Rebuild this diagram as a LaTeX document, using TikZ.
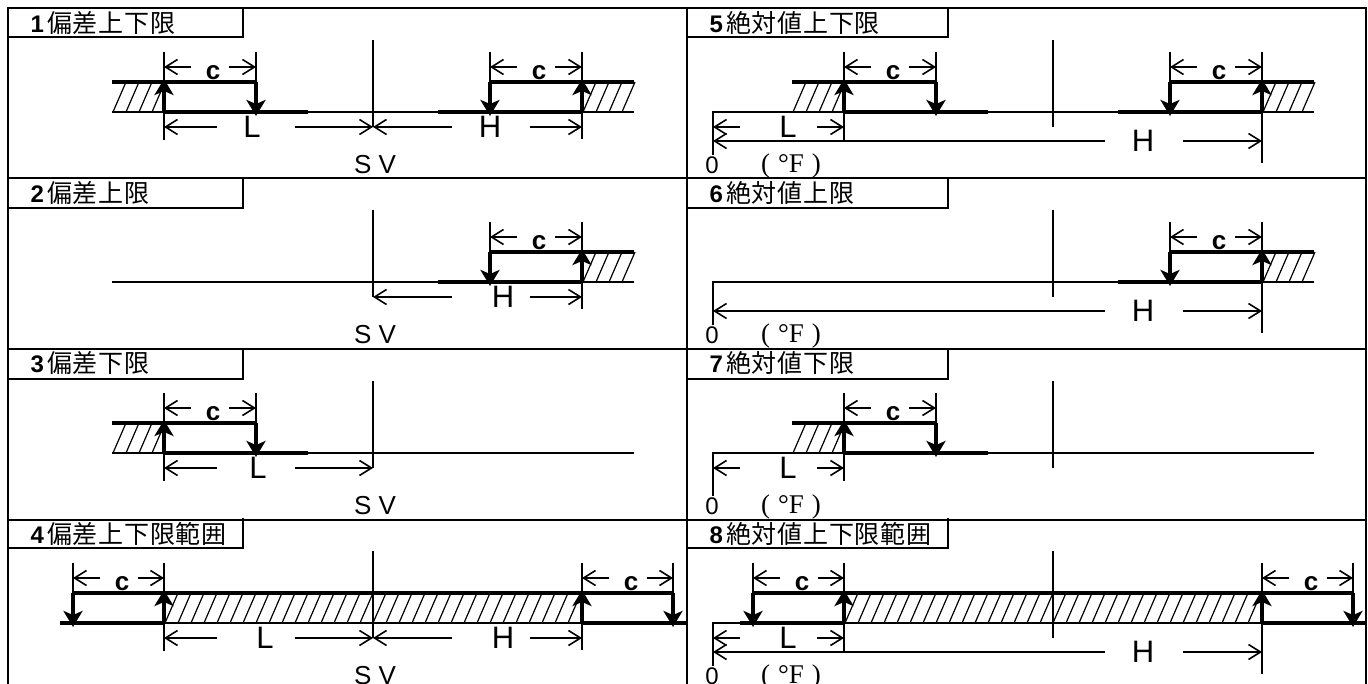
\documentclass[tikz,border=0pt]{standalone}
\usepackage{fontspec}
\setmainfont{Liberation Sans}
\newfontfamily\cjkfont[LetterSpace=3]{Noto Sans CJK JP}
\newfontfamily\serfont{Liberation Serif}
\usetikzlibrary{arrows.meta}
\newcommand{\fsz}[1]{\fontsize{#1}{#1}\selectfont}
\tikzset{
  frameline/.style={line width=2pt,line cap=rect},
  thinline/.style={line width=1.6pt},
  hatchline/.style={line width=1.2pt},
  thickline/.style={line width=4.8pt,line cap=butt},
  uparrow/.style={line width=4.4pt,-{Stealth[length=16pt,width=19pt,inset=4pt]}},
  dimarrow/.style={line width=1.6pt,-{Straight Barb[length=12pt,width=15pt,line width=1.6pt]}},
  txt/.style={inner sep=0pt,outer sep=0pt},
  biglabel/.style={txt,font=\fsz{31}},
  clabel/.style={txt,font=\bfseries\fsz{26}},
  svlabel/.style={txt,font=\fsz{26}},
  zerolabel/.style={txt,font=\fsz{24}},
  unitlabel/.style={txt,font=\serfont\fsz{27}},
  titlelabel/.style={txt,anchor=west}
}
% dimension line: x1, gap1, gap2, x2, y
\newcommand{\dimln}[5]{%
  \draw[dimarrow] (#2,#5) -- (#1,#5);
  \draw[dimarrow] (#3,#5) -- (#4,#5);}
% title box: id, y centre, box bottom, box right, x start, digit, text
\newcommand{\titlebox}[7]{%
  \draw[frameline] (#4,#3-29) -- (#4,#3) -- (#5,#3);
  \node[titlelabel] (title#1) at (#5+16,#2-2)
    {\makebox[20pt][r]{\bfseries\fsz{24}#6}\hspace{3pt}{\cjkfont\fsz{25}#7}};}
% hatching between a list of start x, y from 112 to 82
\newcommand{\hatch}[1]{%
  \foreach \hx in {#1} {\draw[hatchline] (\hx,112) -- (\hx+13,82);}}
% left relay block with hatch
\newcommand{\lowblock}[1]{%
  \hatch{113,126,139,152}
  \draw[thinline] (164,52) -- (164,140);
  \draw[thinline] (256,52) -- (256,82);
  \draw[thickline] (112,82) -- (256,82);
  \draw[thickline] (164,112) -- (308,112);
  \draw[uparrow] (164,112) -- (164,79);
  \draw[uparrow] (256,82) -- (256,116);
  \dimln{164}{191}{229}{256}{67}
  \node[clabel] (c#1) at (213,73) {c};}
% right relay block with hatch; last arg = bottom of the tick at 582
\newcommand{\highblock}[2]{%
  \hatch{583,596,609,622}
  \draw[thinline] (490,52) -- (490,82);
  \draw[thinline] (582,52) -- (582,#2);
  \draw[thickline] (490,82) -- (634,82);
  \draw[thickline] (438,112) -- (582,112);
  \draw[uparrow] (582,112) -- (582,79);
  \draw[uparrow] (490,82) -- (490,116);
  \dimln{490}{517}{555}{582}{67}
  \node[clabel] (d#1) at (539,73) {c};}
% band block of the fourth row
\newcommand{\bandblock}[2]{%
  \foreach \hn in {0,...,31} {\draw[hatchline] ({165+13*\hn},112) -- ({178+13*\hn},82);}
  \draw[thinline] (73,52) -- (73,82);
  \draw[thinline] (164,52) -- (164,140);
  \draw[thinline] (582,52) -- (582,#2);
  \draw[thinline] (673,52) -- (673,82);
  \draw[thickline] (73,82) -- (673,82);
  \draw[thickline] (60,112) -- (164,112);
  \draw[thinline] (164,112) -- (582,112);
  \draw[thickline] (582,112) -- (686,112);
  \draw[uparrow] (164,112) -- (164,79);
  \draw[uparrow] (582,112) -- (582,79);
  \draw[uparrow] (73,82) -- (73,116);
  \draw[uparrow] (673,82) -- (673,116);
  \dimln{73}{100}{138}{164}{67}
  \dimln{582}{609}{647}{673}{67}
  \node[clabel] (c#1) at (122,73) {c};
  \node[clabel] (d#1) at (631,73) {c};}
\newcommand{\svline}{\draw[thinline] (373,40) -- (373,127);}
\newcommand{\svtext}[1]{\node[svlabel] (sv#1) at (375,165) {S V};}
\newcommand{\absbase}[1]{%
  \draw[thinline] (634,112) -- (33,112) -- (33,155);
  \node[zerolabel] (zero#1) at (32,165) {0};
  \node[unitlabel] (unit#1) at (111,166) {(\hspace{8pt}°F\hspace{8pt})};}
\begin{document}
\begin{tikzpicture}[x=1pt,y=-1pt]
\path[use as bounding box,fill=white] (0,0) rectangle (1368,684);
\clip (0,0) rectangle (1368,684);
% titles
\titlebox{a}{25}{37}{243}{8}{1}{偏差上下限}
\titlebox{b}{195}{208}{243}{8}{2}{偏差上限}
\titlebox{c}{365}{379}{243}{8}{3}{偏差下限}
\titlebox{d}{536}{548}{243}{8}{4}{偏差上下限範囲}
\titlebox{e}{25}{37}{948}{687}{5}{絶対値上下限}
\titlebox{f}{195}{208}{948}{687}{6}{絶対値上限}
\titlebox{g}{365}{379}{948}{687}{7}{絶対値下限}
\titlebox{h}{536}{548}{948}{687}{8}{絶対値上下限範囲}
% 1
\begin{scope}
  \draw[thinline] (112,112) -- (634,112);
  \svline
  \lowblock{a}
  \highblock{a}{139}
  \dimln{164}{217}{295}{373}{127}
  \dimln{373}{452}{530}{582}{127}
  \node[biglabel] (La) at (252,127) {L};
  \node[biglabel] (Ha) at (490,127) {H};
  \svtext{a}
\end{scope}
% 2
\begin{scope}[shift={(0,170)}]
  \draw[thinline] (112,112) -- (634,112);
  \svline
  \highblock{b}{139}
  \dimln{373}{452}{530}{582}{127}
  \node[biglabel] (Hb) at (503,127) {H};
  \svtext{b}
\end{scope}
% 3
\begin{scope}[shift={(0,341)}]
  \draw[thinline] (112,112) -- (634,112);
  \svline
  \lowblock{c}
  \dimln{164}{217}{295}{373}{127}
  \node[biglabel] (Lc) at (258,127) {L};
  \svtext{c}
\end{scope}
% 4
\begin{scope}[shift={(0,511)}]
  \svline
  \bandblock{d}{139}
  \dimln{164}{217}{295}{373}{127}
  \dimln{373}{452}{530}{582}{127}
  \node[biglabel] (Ld) at (265,127) {L};
  \node[biglabel] (Hd) at (503,127) {H};
  \svtext{d}
\end{scope}
% 5
\begin{scope}[shift={(680,0)}]
  \absbase{e}
  \svline
  \lowblock{e}
  \highblock{e}{163}
  \dimln{33}{60}{137}{164}{127}
  \dimln{33}{425}{503}{582}{141}
  \node[biglabel] (Le) at (108,127) {L};
  \node[biglabel] (He) at (463,141) {H};
\end{scope}
% 6
\begin{scope}[shift={(680,170)}]
  \absbase{f}
  \svline
  \highblock{f}{163}
  \dimln{33}{425}{503}{582}{141}
  \node[biglabel] (Hf) at (463,141) {H};
\end{scope}
% 7
\begin{scope}[shift={(680,341)}]
  \absbase{g}
  \svline
  \lowblock{g}
  \dimln{33}{60}{137}{164}{127}
  \node[biglabel] (Lg) at (108,127) {L};
\end{scope}
% 8
\begin{scope}[shift={(680,511)}]
  \draw[thinline] (60,112) -- (33,112) -- (33,155);
  \node[zerolabel] (zeroh) at (32,165) {0};
  \node[unitlabel] (unith) at (111,166) {(\hspace{8pt}°F\hspace{8pt})};
  \svline
  \bandblock{h}{163}
  \dimln{33}{60}{137}{164}{127}
  \dimln{33}{425}{503}{582}{141}
  \node[biglabel] (Lh) at (108,127) {L};
  \node[biglabel] (Hh) at (463,141) {H};
\end{scope}
% frame
\draw[frameline] (8,684) -- (8,8) -- (1366,8) -- (1366,684);
\draw[frameline] (687,8) -- (687,684);
\foreach \ry in {178.5,349,520} {\draw[frameline] (8,\ry) -- (1366,\ry);}
\end{tikzpicture}
\end{document}
